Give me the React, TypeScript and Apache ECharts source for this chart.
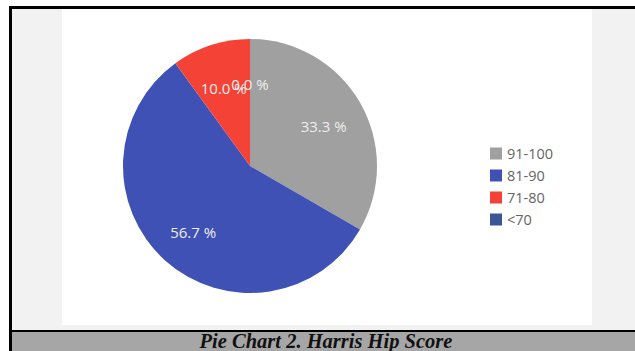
import React, { useEffect, useRef } from "react";
import * as echarts from "echarts";

const categories = ["91-100", "81-90", "71-80", "<70"];
const counts = [10, 17, 3, 0];
const colors = ["#a0a0a0", "#3f51b5", "#f44336", "#3b5694"];
const caption = "Pie Chart 2. Harris Hip Score";

export default function App() {
  const ref = useRef<HTMLDivElement>(null);
  useEffect(() => {
    if (!ref.current) return;
    const chart = echarts.init(ref.current, null, { renderer: "svg" });
    const total = counts.reduce((a, b) => a + b, 0);
    const data = categories.map((name, i) => ({
      name,
      value: counts[i],
      itemStyle: { color: colors[i] },
    }));
    chart.setOption({
      animation: false,
      backgroundColor: "#ffffff",
      graphic: [
        { type: "rect", z: -10, shape: { x: 9, y: 6, width: 640, height: 360 }, style: { fill: "#000000" } },
        { type: "rect", z: -9, shape: { x: 12, y: 9, width: 640, height: 321 }, style: { fill: "#f2f2f2" } },
        { type: "rect", z: -8, shape: { x: 62, y: 9, width: 530, height: 316 }, style: { fill: "#ffffff" } },
        { type: "rect", z: -9, shape: { x: 12, y: 332, width: 640, height: 30 }, style: { fill: "#a6a6a6" } },
        {
          type: "text",
          z: 10,
          x: 326,
          y: 351,
          style: {
            text: caption,
            fill: "#111111",
            font: "italic bold 20.5px 'Liberation Serif', serif",
            textAlign: "center",
            textVerticalAlign: "bottom",
          },
        },
      ],
      legend: {
        orient: "vertical",
        left: 485,
        top: 141,
        itemWidth: 12,
        itemHeight: 12,
        itemGap: 7,
        icon: "rect",
        data: categories,
        textStyle: { color: "#666666", fontSize: 14.5, fontFamily: "'Open Sans', sans-serif" },
      },
      series: [
        {
          type: "pie",
          center: [250, 166],
          radius: 127,
          startAngle: 90,
          clockwise: true,
          silent: true,
          label: { show: false },
          labelLine: { show: false },
          data,
        },
        {
          type: "pie",
          center: [250, 166],
          radius: [60, 104],
          startAngle: 90,
          clockwise: true,
          silent: true,
          avoidLabelOverlap: false,
          minShowLabelAngle: 0,
          labelLayout: { hideOverlap: false },
          itemStyle: { color: "transparent", borderWidth: 0 },
          label: {
            show: true,
            position: "inside",
            color: "#eeeeee",
            fontSize: 15,
            offset: [0, 3],
            fontFamily: "'Open Sans', sans-serif",
            formatter: (p: any) => ((counts[p.dataIndex] / total) * 100).toFixed(1) + " %",
          },
          labelLine: { show: false },
          data: categories.map((name, i) => ({
            name,
            value: counts[i] === 0 ? 0.001 : counts[i],
            itemStyle: { color: "transparent" },
          })),
        },
      ],
    });
    return () => chart.dispose();
  }, []);
  return <div ref={ref} style={{ position: "fixed", left: 0, top: 0, width: 635, height: 351 }} />;
}
